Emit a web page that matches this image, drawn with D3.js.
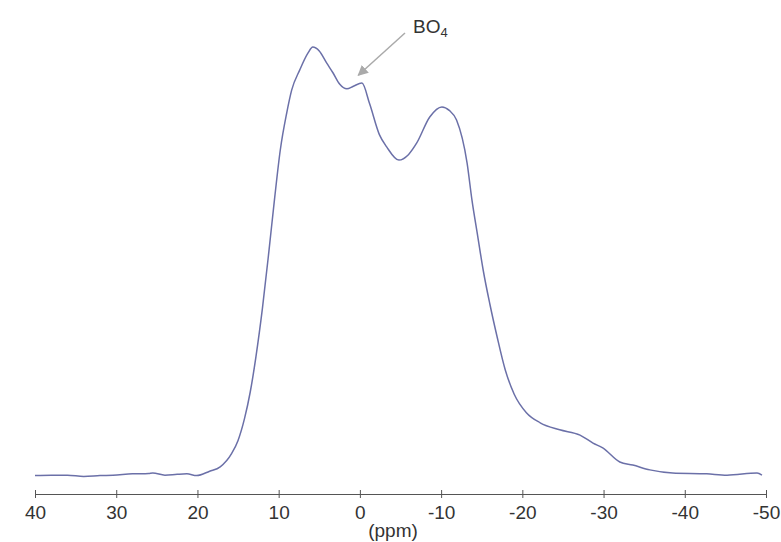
<!DOCTYPE html>
<html>
<head>
<meta charset="utf-8">
<script src="https://cdn.jsdelivr.net/npm/d3@7"></script>
<style>
  body { margin: 0; background: #fff; }
  text { font-family: "Liberation Sans", Arial, sans-serif; }
</style>
</head>
<body>
<div id="chart"></div>
<script>
// chemical shift (ppm) and intensity
const shiftPpm = [
  40, 38, 36, 34, 32, 30.4, 28, 26, 25.5, 24, 22.5, 21.3, 20.1, 18.5, 17.2,
  15.8, 15, 14.2, 13.5, 12.8, 12, 11.2, 10.5, 9.8, 9, 8.4, 7.4, 6.4, 5.8, 5,
  4.1, 3.3, 2.5, 1.6, 0.8, -0.25, -1.2, -2.4, -3.3, -4.8, -6, -7, -8.6,
  -10.1, -11, -11.9, -13.2, -13.8, -14.5, -15.2, -16, -16.9, -17.9, -19,
  -20.5, -22.2, -24.6, -27.1, -28.7, -29.9, -32, -33.6, -35.7, -38.5, -42.7,
  -45.2, -48.9, -49.5
];
const intensity = [
  1.0, 1.1, 1.1, 0.8, 1.0, 1.1, 1.4, 1.5, 1.6, 1.1, 1.3, 1.4, 1.0, 2.0, 3.0,
  6.0, 9.0, 14, 20, 28, 39, 52, 64, 75, 83.5, 88.6, 93.2, 97.0, 98.4, 97.5,
  94.8, 92.5, 90, 88.9, 89.5, 90.2, 85.5, 78.5, 75.7, 72.7, 74, 76.6, 82.5,
  84.8, 84, 81.8, 72.0, 63.6, 55.5, 47.5, 40, 32.5, 25, 19.5, 15.3, 13.0,
  11.4, 10.2, 8.4, 7.3, 4.1, 3.4, 2.3, 1.6, 1.4, 1.1, 1.6, 1.1
];
const tickValues = [40, 30, 20, 10, 0, -10, -20, -30, -40, -50];
const annotation = { label: "BO", sub: "4", ppm: 0.2, value: 92 };

const width = 781;
const height = 542;

const svg = d3
  .select("#chart")
  .append("svg")
  .attr("width", width)
  .attr("height", height);

const x = d3.scaleLinear().domain([40, -50]).range([35, 766]);
const y = d3.scaleLinear().domain([0, 100]).range([480, 40]);
const axisY = 494;

const points = shiftPpm.map((p, i) => ({ ppm: p, v: intensity[i] }));

const line = d3
  .line()
  .x((d) => x(d.ppm))
  .y((d) => y(d.v))
  .curve(d3.curveMonotoneX);

svg
  .append("path")
  .datum(points)
  .attr("fill", "none")
  .attr("stroke", "#6b70a8")
  .attr("stroke-width", 1.5)
  .attr("d", line);

// x axis
const xAxis = svg
  .append("g")
  .attr("transform", `translate(0,${axisY})`)
  .call(
    d3
      .axisBottom(x)
      .tickValues(tickValues)
      .tickSizeOuter(0)
      .tickFormat((d) => String(d)),
  );

xAxis.select(".domain").attr("stroke", "#555").attr("stroke-width", 1.2);
xAxis
  .selectAll(".tick line")
  .attr("y1", -4)
  .attr("y2", 4)
  .attr("stroke", "#555");
xAxis
  .selectAll(".tick text")
  .attr("y", 12)
  .attr("dy", "0.71em")
  .style("font-size", "19px")
  .style("font-family", '"Liberation Sans", Arial, sans-serif')
  .attr("fill", "#333");

svg
  .append("text")
  .attr("x", 393)
  .attr("y", 537)
  .attr("text-anchor", "middle")
  .style("font-size", "19px")
  .attr("fill", "#333")
  .text("(ppm)");

// BO4 annotation
svg
  .append("defs")
  .append("marker")
  .attr("id", "arrow")
  .attr("viewBox", "0 0 10 10")
  .attr("refX", 9)
  .attr("refY", 5)
  .attr("markerWidth", 7)
  .attr("markerHeight", 7)
  .attr("orient", "auto")
  .append("path")
  .attr("d", "M0,0 L10,5 L0,10 z")
  .attr("fill", "#aaa");

svg
  .append("line")
  .attr("x1", 405)
  .attr("y1", 33)
  .attr("x2", x(annotation.ppm))
  .attr("y2", y(annotation.value))
  .attr("stroke", "#aaa")
  .attr("stroke-width", 1.5)
  .attr("marker-end", "url(#arrow)");

const bo = svg
  .append("text")
  .attr("x", 413)
  .attr("y", 33)
  .style("font-size", "19px")
  .attr("fill", "#333")
  .text(annotation.label);
bo.append("tspan")
  .attr("dy", 4)
  .style("font-size", "13px")
  .text(annotation.sub);
</script>
</body>
</html>
